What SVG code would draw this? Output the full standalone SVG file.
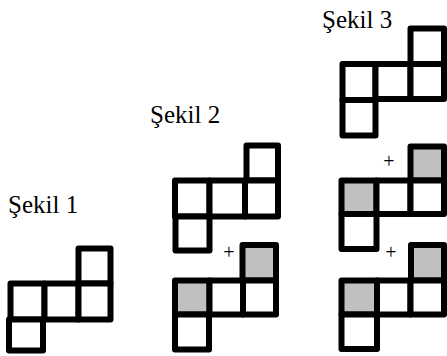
<svg xmlns="http://www.w3.org/2000/svg" width="447" height="356" viewBox="0 0 447 356">
<style>
.c{fill:#fff;stroke:#000;stroke-width:6;stroke-linejoin:round}
.g{fill:#c0c0c0;stroke:#000;stroke-width:6;stroke-linejoin:round}
.t{font-size:25px;fill:#000}
.p{font-size:20px;fill:#000;text-anchor:middle}
</style>
<rect width="447" height="356" fill="#fff"/>
<g id="sekil1">
<text class="t" font-family="'Liberation Serif', 'Times New Roman', Times, serif" x="8" y="213">Şekil 1</text>
<rect class="c" x="78.5" y="248.5" width="32" height="35"/>
<rect class="c" x="10.5" y="283.5" width="34" height="36"/>
<rect class="c" x="44.5" y="283.5" width="34" height="36"/>
<rect class="c" x="78.5" y="283.5" width="32" height="36"/>
<rect class="c" x="9" y="319.5" width="34" height="31"/>
</g>
<g id="sekil2">
<text class="t" font-family="'Liberation Serif', 'Times New Roman', Times, serif" x="150" y="123">Şekil 2</text>
<rect class="c" x="246.5" y="145.5" width="31.5" height="35"/>
<rect class="c" x="175" y="180.5" width="34.5" height="36"/>
<rect class="c" x="209.5" y="180.5" width="35.5" height="36"/>
<rect class="c" x="245" y="180.5" width="33" height="36"/>
<rect class="c" x="175.5" y="216.5" width="34" height="34"/>
<text class="p" font-family="'Liberation Serif', 'Times New Roman', Times, serif" x="229" y="259">+</text>
<rect class="g" x="242.5" y="245" width="33.5" height="35.5"/>
<rect class="g" x="175" y="280.5" width="34.5" height="34"/>
<rect class="c" x="209.5" y="280.5" width="33.5" height="34"/>
<rect class="c" x="243" y="280.5" width="33" height="34"/>
<rect class="c" x="175" y="314.5" width="34" height="35"/>
</g>
<g id="sekil3">
<text class="t" font-family="'Liberation Serif', 'Times New Roman', Times, serif" x="322" y="28">Şekil 3</text>
<rect class="c" x="410.5" y="28.5" width="33.5" height="35.5"/>
<rect class="c" x="342.5" y="64" width="33" height="36"/>
<rect class="c" x="375.5" y="64" width="35" height="35"/>
<rect class="c" x="410.5" y="64" width="33.5" height="35"/>
<rect class="c" x="342.5" y="100" width="33" height="35.5"/>
<text class="p" font-family="'Liberation Serif', 'Times New Roman', Times, serif" x="389" y="168">+</text>
<rect class="g" x="410.5" y="146.5" width="33.5" height="34"/>
<rect class="g" x="341.5" y="180.5" width="35" height="33.5"/>
<rect class="c" x="376.5" y="180.5" width="34" height="33.5"/>
<rect class="c" x="410.5" y="180.5" width="33.5" height="33.5"/>
<rect class="c" x="341.5" y="214" width="35" height="35"/>
<text class="p" font-family="'Liberation Serif', 'Times New Roman', Times, serif" x="391" y="259">+</text>
<rect class="g" x="411" y="245" width="33" height="35.5"/>
<rect class="g" x="341.5" y="280.5" width="35.5" height="34"/>
<rect class="c" x="377" y="280.5" width="33.5" height="34"/>
<rect class="c" x="410.5" y="280.5" width="33.5" height="34"/>
<rect class="c" x="341.5" y="314.5" width="35.5" height="34.5"/>
</g>
</svg>
